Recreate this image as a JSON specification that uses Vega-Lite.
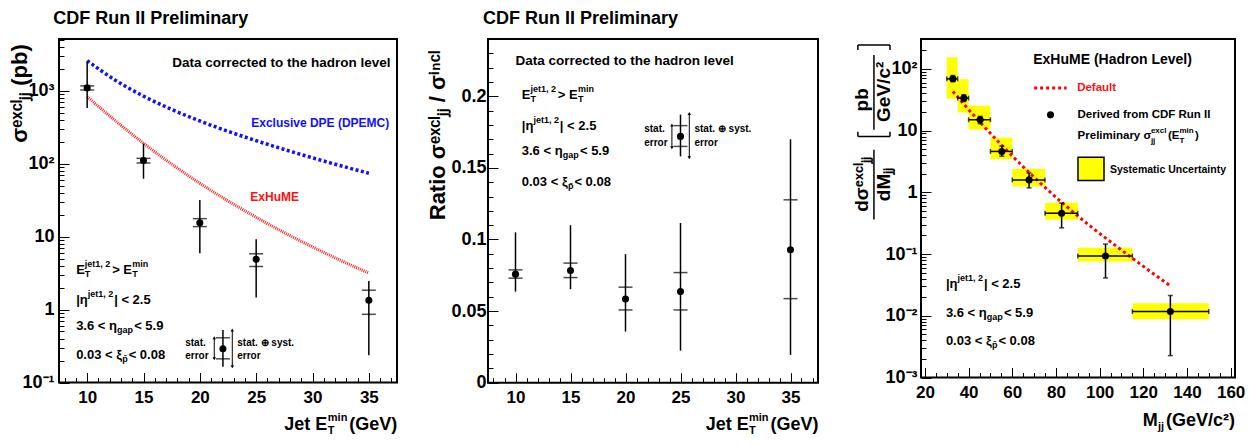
{
"$schema":"https://vega.github.io/schema/vega-lite/v6.json",
"width":1250,"height":445,"autosize":{"type":"none"},"padding":0,"background":"white",
"config":{"view":{"stroke":null},
 "text":{"font":"Liberation Sans, Arial, sans-serif","fontWeight":"bold","align":"left","baseline":"middle","color":"black"},
 "axis":{"grid":false,"domain":false,"labelFont":"Liberation Sans, Arial, sans-serif","labelFontWeight":"bold","labelColor":"black","tickColor":"black","tickWidth":1,"titleColor":"black","titleFont":"Liberation Sans, sans-serif","titleFontWeight":"bold","labelFlush":false,"labelOverlap":false}},
"datasets":{
 "p1":[{"x":10,"y":1090,"slo":1020,"shi":1160,"tlo":580,"thi":2500},{"x":15,"y":110,"slo":102,"shi":118,"tlo":62,"thi":188},{"x":20,"y":15.5,"slo":13.7,"shi":17.6,"tlo":5.9,"thi":31.8},{"x":25,"y":4.9,"slo":3.9,"shi":5.8,"tlo":1.46,"thi":9.2},{"x":35,"y":1.34,"slo":0.86,"shi":1.84,"tlo":0.237,"thi":2.46},{"x":22.05,"y":0.29,"slo":0.211,"shi":0.41,"tlo":0.164,"thi":0.526}],
 "p2":[{"x":10,"y":0.0758,"slo":0.073,"shi":0.0788,"tlo":0.0636,"thi":0.105},{"x":15,"y":0.0783,"slo":0.0734,"shi":0.0835,"tlo":0.0653,"thi":0.11},{"x":20,"y":0.0585,"slo":0.0508,"shi":0.0667,"tlo":0.0357,"thi":0.0898},{"x":25,"y":0.0636,"slo":0.0508,"shi":0.0769,"tlo":0.0224,"thi":0.1115},{"x":35,"y":0.0928,"slo":0.0587,"shi":0.1277,"tlo":0.0194,"thi":0.17},{"x":25,"y":0.172,"slo":0.165,"shi":0.1795,"tlo":0.158,"thi":0.1872}],
 "c1":[{"m":"DPEMC","x":10,"y":2576},{"m":"DPEMC","x":12.5,"y":1390},{"m":"DPEMC","x":15,"y":841},{"m":"DPEMC","x":17.5,"y":552},{"m":"DPEMC","x":20,"y":384},{"m":"DPEMC","x":22.5,"y":277},{"m":"DPEMC","x":25,"y":206},{"m":"DPEMC","x":27.5,"y":156},{"m":"DPEMC","x":30,"y":120},{"m":"DPEMC","x":32.5,"y":93.5},{"m":"DPEMC","x":35,"y":73.8},
  {"m":"ExHuME","x":10,"y":828},{"m":"ExHuME","x":12.5,"y":387},{"m":"ExHuME","x":15,"y":190},{"m":"ExHuME","x":17.5,"y":98.4},{"m":"ExHuME","x":20,"y":53.8},{"m":"ExHuME","x":22.5,"y":30.8},{"m":"ExHuME","x":25,"y":18.4},{"m":"ExHuME","x":27.5,"y":11.3},{"m":"ExHuME","x":30,"y":7.21},{"m":"ExHuME","x":32.5,"y":4.71},{"m":"ExHuME","x":35,"y":3.16}],
 "p3":[{"x":32.8,"lo":30,"hi":35,"y":69,"slo":32.8,"shi":154,"elo":62,"ehi":78},{"x":37.8,"lo":35,"hi":40,"y":33.6,"slo":19.7,"shi":68,"elo":29.6,"ehi":38},{"x":45.3,"lo":40,"hi":50,"y":15,"slo":10.4,"shi":25.3,"elo":13,"ehi":17},{"x":55.2,"lo":50,"hi":60,"y":4.6,"slo":3.44,"shi":7.7,"elo":3.85,"ehi":5.6},{"x":67.7,"lo":60,"hi":75,"y":1.59,"slo":1.24,"shi":2.42,"elo":1.18,"ehi":2.06},{"x":82.6,"lo":75,"hi":90,"y":0.458,"slo":0.36,"shi":0.68,"elo":0.266,"ehi":0.67},{"x":102.7,"lo":90,"hi":115,"y":0.093,"slo":0.076,"shi":0.126,"elo":0.041,"ehi":0.145},{"x":132.4,"lo":115,"hi":150,"y":0.0117,"slo":0.0088,"shi":0.016,"elo":0.00226,"ehi":0.0213}],
 "c3":[{"x":32.8,"y":43},{"x":37.8,"y":26.9},{"x":45.3,"y":13.6},{"x":55.2,"y":5.79},{"x":67.7,"y":2.1},{"x":82.6,"y":0.69},{"x":95,"y":0.297},{"x":106.5,"y":0.144},{"x":115,"y":0.0855},{"x":123,"y":0.053},{"x":132.3,"y":0.0307}],
 "arrows":[{"p":1,"x":21.28,"lo":0.211,"hi":0.41},{"p":1,"x":22.88,"lo":0.164,"hi":0.526},{"p":2,"x":24.22,"lo":0.164,"hi":0.18},{"p":2,"x":25.8,"lo":0.157,"hi":0.188}],
 "frames":[{"p":1,"x1":7.5,"x2":37.5,"y1":0.1,"y2":5100},{"p":2,"x1":7.5,"x2":37.5,"y1":0,"y2":0.24},{"p":3,"x1":18.2,"x2":162,"y1":0.001,"y2":305}],
 "p3lines":[{"x":-3.35,"x2":-3.35,"y":0.364,"y2":4.9},{"x":-3.35,"x2":-3.35,"y":10.3,"y2":168},{"x":-10.7,"x2":4,"y":8,"y2":8},{"x":-10.7,"x2":4,"y":244,"y2":244},{"x":-10.7,"x2":-10.7,"y":8,"y2":9.6},{"x":4,"x2":4,"y":8,"y2":9.6},{"x":-10.7,"x2":-10.7,"y":203,"y2":244},{"x":4,"x2":4,"y":203,"y2":244}],
 "txt":[
  {"p":1,"r":"title","x":6.98,"y":9600,"t":"CDF Run II Preliminary"},
  {"p":1,"r":"note","x":17.55,"y":2390,"t":"Data corrected to the hadron level"},
  {"p":1,"r":"blue","x":24.56,"y":361,"t":"Exclusive DPE (DPEMC)"},
  {"p":1,"r":"red","x":24.48,"y":35,"t":"ExHuME"},
  {"p":1,"r":"cut","x":9.02,"y":3.5,"t":"E"},
  {"p":1,"r":"cut","x":12.217,"y":3.5,"t":"> E"},
  {"p":1,"r":"cut","x":9.02,"y":1.36,"t":"|η"},
  {"p":1,"r":"cut","x":12.395,"y":1.36,"t":"| < 2.5"},
  {"p":1,"r":"cut","x":9.02,"y":0.598,"t":"3.6 < η"},
  {"p":1,"r":"cut","x":14.171,"y":0.598,"t":"< 5.9"},
  {"p":1,"r":"cut","x":9.02,"y":0.24,"t":"0.03 < ξ"},
  {"p":1,"r":"cut","x":13.682,"y":0.24,"t":"< 0.08"},
  {"p":1,"r":"sub","x":9.793,"y":3.5,"t":"T"},
  {"p":1,"r":"sub","x":13.993,"y":3.5,"t":"T"},
  {"p":1,"r":"sub","x":12.643,"y":0.598,"t":"gap"},
  {"p":1,"r":"sub","x":13.105,"y":0.24,"t":"p̄"},
  {"p":1,"r":"sup","x":9.793,"y":3.5,"t":"jet1, 2"},
  {"p":1,"r":"sup","x":13.993,"y":3.5,"t":"min"},
  {"p":1,"r":"sup","x":10.05,"y":1.36,"t":"jet1, 2"},
  {"p":1,"r":"small","x":18.7,"y":0.35,"t":"stat."},
  {"p":1,"r":"small","x":18.7,"y":0.232,"t":"error"},
  {"p":1,"r":"small","x":23.32,"y":0.35,"t":"stat. ⊕ syst."},
  {"p":1,"r":"small","x":23.32,"y":0.232,"t":"error"},
  {"p":1,"r":"axt","x":27.5,"y":0.0263,"t":"Jet E"},
  {"p":1,"r":"axt","x":33.27,"y":0.0263,"t":"(GeV)"},
  {"p":1,"r":"axsub","x":31.36,"y":0.0263,"t":"T"},
  {"p":1,"r":"axsup","x":31.36,"y":0.0263,"t":"min"},
  {"p":2,"r":"title","x":7.05,"y":0.2543,"t":"CDF Run II Preliminary"},
  {"p":2,"r":"note","x":10.0,"y":0.2245,"t":"Data corrected to the hadron level"},
  {"p":2,"r":"cut","x":10.57,"y":0.2012,"t":"E"},
  {"p":2,"r":"cut","x":13.852,"y":0.2012,"t":"> E"},
  {"p":2,"r":"cut","x":10.57,"y":0.179,"t":"|η"},
  {"p":2,"r":"cut","x":14.034,"y":0.179,"t":"| < 2.5"},
  {"p":2,"r":"cut","x":10.57,"y":0.1615,"t":"3.6 < η"},
  {"p":2,"r":"cut","x":15.857,"y":0.1615,"t":"< 5.9"},
  {"p":2,"r":"cut","x":10.57,"y":0.1399,"t":"0.03 < ξ"},
  {"p":2,"r":"cut","x":15.356,"y":0.1399,"t":"< 0.08"},
  {"p":2,"r":"sub","x":11.363,"y":0.2012,"t":"T"},
  {"p":2,"r":"sub","x":15.675,"y":0.2012,"t":"T"},
  {"p":2,"r":"sub","x":14.289,"y":0.1615,"t":"gap"},
  {"p":2,"r":"sub","x":14.763,"y":0.1399,"t":"p̄"},
  {"p":2,"r":"sup","x":11.363,"y":0.2012,"t":"jet1, 2"},
  {"p":2,"r":"sup","x":15.675,"y":0.2012,"t":"min"},
  {"p":2,"r":"sup","x":11.627,"y":0.179,"t":"jet1, 2"},
  {"p":2,"r":"small","x":21.7,"y":0.1772,"t":"stat."},
  {"p":2,"r":"small","x":21.7,"y":0.1674,"t":"error"},
  {"p":2,"r":"small","x":26.27,"y":0.1772,"t":"stat. ⊕ syst."},
  {"p":2,"r":"small","x":26.27,"y":0.1674,"t":"error"},
  {"p":2,"r":"axt","x":27.3,"y":-0.0296,"t":"Jet E"},
  {"p":2,"r":"axt","x":33.18,"y":-0.0296,"t":"(GeV)"},
  {"p":2,"r":"axsub","x":31.22,"y":-0.0296,"t":"T"},
  {"p":2,"r":"axsup","x":31.22,"y":-0.0296,"t":"min"},
  {"p":3,"r":"cut","x":29.6,"y":0.0322,"t":"|η"},
  {"p":3,"r":"cut","x":47.0,"y":0.0322,"t":"| < 2.5"},
  {"p":3,"r":"cut","x":29.6,"y":0.0112,"t":"3.6 < η"},
  {"p":3,"r":"cut","x":56.16,"y":0.0112,"t":"< 5.9"},
  {"p":3,"r":"cut","x":29.6,"y":0.00395,"t":"0.03 < ξ"},
  {"p":3,"r":"cut","x":53.64,"y":0.00395,"t":"< 0.08"},
  {"p":3,"r":"sub","x":48.28,"y":0.0112,"t":"gap"},
  {"p":3,"r":"sub","x":50.66,"y":0.00395,"t":"p̄"},
  {"p":3,"r":"sup","x":34.91,"y":0.0322,"t":"jet1, 2"},
  {"p":3,"r":"axt","x":119.8,"y":0.0002,"t":"M"},
  {"p":3,"r":"axt","x":130.35,"y":0.0002,"t":"(GeV/c²)"},
  {"p":3,"r":"axsub","x":126.7,"y":0.0002,"t":"jj"},
  {"p":3,"r":"legt","x":69.6,"y":139.7,"t":"ExHuME (Hadron Level)"},
  {"p":3,"r":"legred","x":89.7,"y":48.8,"t":"Default"},
  {"p":3,"r":"leg","x":89.9,"y":18,"t":"Derived from CDF Run II"},
  {"p":3,"r":"leg","x":89.92,"y":8.27,"t":"Preliminary σ"},
  {"p":3,"r":"leg","x":131.26,"y":8.27,"t":"(E"},
  {"p":3,"r":"leg","x":143.63,"y":8.27,"t":")"},
  {"p":3,"r":"legsup","x":123.48,"y":8.27,"t":"excl"},
  {"p":3,"r":"legsup","x":136.53,"y":8.27,"t":"min"},
  {"p":3,"r":"legsub","x":123.48,"y":8.27,"t":"jj"},
  {"p":3,"r":"legsub","x":136.53,"y":8.27,"t":"T"},
  {"p":3,"r":"legsys","x":104.7,"y":2.34,"t":"Systematic Uncertainty"},
  {"p":3,"r":"rot","x":-8.85,"y":1.34,"t":"dσᵉˣᶜˡⱼⱼ"},
  {"p":3,"r":"rot","x":1.23,"y":1.34,"t":"dMⱼⱼ"},
  {"p":3,"r":"rot","x":-8.85,"y":31.6,"t":"pb"},
  {"p":3,"r":"rot","x":1.23,"y":42.5,"t":"GeV/c²"}
 ]
},
"resolve":{"scale":{"x":"independent","y":"independent"},"axis":{"x":"independent","y":"independent"}},
"layer":[
 {"layer":[
  {"data":{"name":"c1"},"transform":[{"filter":"datum.m=='DPEMC'"}],"mark":{"type":"line","color":"#1010ff","strokeWidth":3.5,"strokeDash":[3,2.5],"interpolate":"monotone"},"encoding":{"x":{"field":"x","type":"quantitative"},"y":{"field":"y","type":"quantitative"}}},
  {"data":{"name":"c1"},"transform":[{"filter":"datum.m=='ExHuME'"}],"mark":{"type":"line","color":"#ff2020","strokeWidth":3,"strokeDash":[1,1],"interpolate":"monotone"},"encoding":{"x":{"field":"x","type":"quantitative"},"y":{"field":"y","type":"quantitative"}}},
  {"data":{"name":"p1"},"mark":{"type":"rule","color":"black","strokeWidth":1.5},"encoding":{"x":{"field":"x","type":"quantitative"},"y":{"field":"tlo","type":"quantitative"},"y2":{"field":"thi"}}},
  {"data":{"name":"p1"},"mark":{"type":"tick","color":"black","orient":"horizontal","size":14,"thickness":1.5},"encoding":{"x":{"field":"x","type":"quantitative"},"y":{"field":"slo","type":"quantitative"}}},
  {"data":{"name":"p1"},"mark":{"type":"tick","color":"black","orient":"horizontal","size":14,"thickness":1.5},"encoding":{"x":{"field":"x","type":"quantitative"},"y":{"field":"shi","type":"quantitative"}}},
  {"data":{"name":"p1"},"mark":{"type":"circle","color":"black","size":50,"opacity":1},"encoding":{"x":{"field":"x","type":"quantitative"},"y":{"field":"y","type":"quantitative"}}},
  {"data":{"name":"arrows"},"transform":[{"filter":"datum.p==1"}],"mark":{"type":"rule","color":"black","strokeWidth":1},"encoding":{"x":{"field":"x","type":"quantitative"},"y":{"field":"lo","type":"quantitative"},"y2":{"field":"hi"}}},
  {"data":{"name":"arrows"},"transform":[{"filter":"datum.p==1"}],"mark":{"type":"point","shape":"triangle-up","filled":true,"color":"black","size":12,"opacity":1},"encoding":{"x":{"field":"x","type":"quantitative"},"y":{"field":"hi","type":"quantitative"}}},
  {"data":{"name":"arrows"},"transform":[{"filter":"datum.p==1"}],"mark":{"type":"point","shape":"triangle-down","filled":true,"color":"black","size":12,"opacity":1},"encoding":{"x":{"field":"x","type":"quantitative"},"y":{"field":"lo","type":"quantitative"}}},
  {"data":{"name":"txt"},"transform":[{"filter":"datum.p==1 && datum.r=='title'"}],"mark":{"type":"text","fontSize":18},"encoding":{"x":{"field":"x","type":"quantitative"},"y":{"field":"y","type":"quantitative"},"text":{"field":"t","type":"nominal"}}},
  {"data":{"name":"txt"},"transform":[{"filter":"datum.p==1 && datum.r=='note'"}],"mark":{"type":"text","fontSize":13.5},"encoding":{"x":{"field":"x","type":"quantitative"},"y":{"field":"y","type":"quantitative"},"text":{"field":"t","type":"nominal"}}},
  {"data":{"name":"txt"},"transform":[{"filter":"datum.p==1 && datum.r=='blue'"}],"mark":{"type":"text","fontSize":12,"color":"#1010ff"},"encoding":{"x":{"field":"x","type":"quantitative"},"y":{"field":"y","type":"quantitative"},"text":{"field":"t","type":"nominal"}}},
  {"data":{"name":"txt"},"transform":[{"filter":"datum.p==1 && datum.r=='red'"}],"mark":{"type":"text","fontSize":12,"color":"#ff1010"},"encoding":{"x":{"field":"x","type":"quantitative"},"y":{"field":"y","type":"quantitative"},"text":{"field":"t","type":"nominal"}}},
  {"data":{"name":"txt"},"transform":[{"filter":"datum.p==1 && datum.r=='cut'"}],"mark":{"type":"text","fontSize":13},"encoding":{"x":{"field":"x","type":"quantitative"},"y":{"field":"y","type":"quantitative"},"text":{"field":"t","type":"nominal"}}},
  {"data":{"name":"txt"},"transform":[{"filter":"datum.p==1 && datum.r=='sub'"}],"mark":{"type":"text","fontSize":9,"dy":4},"encoding":{"x":{"field":"x","type":"quantitative"},"y":{"field":"y","type":"quantitative"},"text":{"field":"t","type":"nominal"}}},
  {"data":{"name":"txt"},"transform":[{"filter":"datum.p==1 && datum.r=='sup'"}],"mark":{"type":"text","fontSize":9,"dy":-6},"encoding":{"x":{"field":"x","type":"quantitative"},"y":{"field":"y","type":"quantitative"},"text":{"field":"t","type":"nominal"}}},
  {"data":{"name":"txt"},"transform":[{"filter":"datum.p==1 && datum.r=='small'"}],"mark":{"type":"text","fontSize":10},"encoding":{"x":{"field":"x","type":"quantitative"},"y":{"field":"y","type":"quantitative"},"text":{"field":"t","type":"nominal"}}},
  {"data":{"name":"txt"},"transform":[{"filter":"datum.p==1 && datum.r=='axt'"}],"mark":{"type":"text","fontSize":18},"encoding":{"x":{"field":"x","type":"quantitative"},"y":{"field":"y","type":"quantitative"},"text":{"field":"t","type":"nominal"}}},
  {"data":{"name":"txt"},"transform":[{"filter":"datum.p==1 && datum.r=='axsub'"}],"mark":{"type":"text","fontSize":11,"dy":6},"encoding":{"x":{"field":"x","type":"quantitative"},"y":{"field":"y","type":"quantitative"},"text":{"field":"t","type":"nominal"}}},
  {"data":{"name":"txt"},"transform":[{"filter":"datum.p==1 && datum.r=='axsup'"}],"mark":{"type":"text","fontSize":11,"dy":-7},"encoding":{"x":{"field":"x","type":"quantitative"},"y":{"field":"y","type":"quantitative"},"text":{"field":"t","type":"nominal"}}},
  {"data":{"name":"frames"},"transform":[{"filter":"datum.p==1"}],"mark":{"type":"rect","filled":false,"color":"black","strokeWidth":2},"encoding":{
    "x":{"field":"x1","type":"quantitative","scale":{"domain":[7.5,37.5],"range":[59,397],"nice":false,"zero":false},"axis":{"orient":"bottom","offset":-62.5,"values":[10,15,20,25,30,35],"tickSize":-10,"labelPadding":17,"labelFontSize":17,"title":null}},
    "x2":{"field":"x2"},
    "y":{"field":"y1","type":"quantitative","scale":{"type":"log","domain":[0.1,5100],"range":[382.5,39],"nice":false},"axis":{"orient":"left","offset":-59,"values":[0.1,1,10,100,1000],"tickSize":-10,"labelPadding":15,"labelFontSize":18,"labelExpr":"datum.value >= 999 ? '10³' : datum.value >= 99 ? '10²' : datum.value >= 9 ? '10' : datum.value >= 0.9 ? '1' : '10⁻¹'","title":"σᵉˣᶜˡⱼⱼ (pb)","titleX":-40,"titleY":93,"titleAngle":270,"titleAlign":"center","titleBaseline":"middle","titleFontSize":22}},
    "y2":{"field":"y2"}}}
 ]},
 {"data":{"values":[{}]},"mark":{"type":"point","opacity":0},"encoding":{
   "x":{"datum":10,"type":"quantitative","scale":{"domain":[7.5,37.5],"range":[59,397],"nice":false,"zero":false},"axis":{"orient":"bottom","offset":-62.5,"values":[8,9,11,12,13,14,16,17,18,19,21,22,23,24,26,27,28,29,31,32,33,34,36,37],"tickSize":-5,"labels":false,"title":null}},
   "y":{"datum":1,"type":"quantitative","scale":{"type":"log","domain":[0.1,5100],"range":[382.5,39],"nice":false},"axis":{"orient":"left","offset":-59,"values":[0.2,0.3,0.4,0.5,0.6,0.7,0.8,0.9,2,3,4,5,6,7,8,9,20,30,40,50,60,70,80,90,200,300,400,500,600,700,800,900,2000,3000,4000,5000],"tickSize":-5,"labels":false,"title":null}}}},
 {"layer":[
  {"data":{"name":"p2"},"mark":{"type":"rule","color":"black","strokeWidth":1.5},"encoding":{"x":{"field":"x","type":"quantitative"},"y":{"field":"tlo","type":"quantitative"},"y2":{"field":"thi"}}},
  {"data":{"name":"p2"},"mark":{"type":"tick","color":"black","orient":"horizontal","size":14,"thickness":1.5},"encoding":{"x":{"field":"x","type":"quantitative"},"y":{"field":"slo","type":"quantitative"}}},
  {"data":{"name":"p2"},"mark":{"type":"tick","color":"black","orient":"horizontal","size":14,"thickness":1.5},"encoding":{"x":{"field":"x","type":"quantitative"},"y":{"field":"shi","type":"quantitative"}}},
  {"data":{"name":"p2"},"mark":{"type":"circle","color":"black","size":50,"opacity":1},"encoding":{"x":{"field":"x","type":"quantitative"},"y":{"field":"y","type":"quantitative"}}},
  {"data":{"name":"arrows"},"transform":[{"filter":"datum.p==2"}],"mark":{"type":"rule","color":"black","strokeWidth":1},"encoding":{"x":{"field":"x","type":"quantitative"},"y":{"field":"lo","type":"quantitative"},"y2":{"field":"hi"}}},
  {"data":{"name":"arrows"},"transform":[{"filter":"datum.p==2"}],"mark":{"type":"point","shape":"triangle-up","filled":true,"color":"black","size":12,"opacity":1},"encoding":{"x":{"field":"x","type":"quantitative"},"y":{"field":"hi","type":"quantitative"}}},
  {"data":{"name":"arrows"},"transform":[{"filter":"datum.p==2"}],"mark":{"type":"point","shape":"triangle-down","filled":true,"color":"black","size":12,"opacity":1},"encoding":{"x":{"field":"x","type":"quantitative"},"y":{"field":"lo","type":"quantitative"}}},
  {"data":{"name":"txt"},"transform":[{"filter":"datum.p==2 && datum.r=='title'"}],"mark":{"type":"text","fontSize":18},"encoding":{"x":{"field":"x","type":"quantitative"},"y":{"field":"y","type":"quantitative"},"text":{"field":"t","type":"nominal"}}},
  {"data":{"name":"txt"},"transform":[{"filter":"datum.p==2 && datum.r=='note'"}],"mark":{"type":"text","fontSize":13.5},"encoding":{"x":{"field":"x","type":"quantitative"},"y":{"field":"y","type":"quantitative"},"text":{"field":"t","type":"nominal"}}},
  {"data":{"name":"txt"},"transform":[{"filter":"datum.p==2 && datum.r=='cut'"}],"mark":{"type":"text","fontSize":13},"encoding":{"x":{"field":"x","type":"quantitative"},"y":{"field":"y","type":"quantitative"},"text":{"field":"t","type":"nominal"}}},
  {"data":{"name":"txt"},"transform":[{"filter":"datum.p==2 && datum.r=='sub'"}],"mark":{"type":"text","fontSize":9,"dy":4},"encoding":{"x":{"field":"x","type":"quantitative"},"y":{"field":"y","type":"quantitative"},"text":{"field":"t","type":"nominal"}}},
  {"data":{"name":"txt"},"transform":[{"filter":"datum.p==2 && datum.r=='sup'"}],"mark":{"type":"text","fontSize":9,"dy":-6},"encoding":{"x":{"field":"x","type":"quantitative"},"y":{"field":"y","type":"quantitative"},"text":{"field":"t","type":"nominal"}}},
  {"data":{"name":"txt"},"transform":[{"filter":"datum.p==2 && datum.r=='small'"}],"mark":{"type":"text","fontSize":10},"encoding":{"x":{"field":"x","type":"quantitative"},"y":{"field":"y","type":"quantitative"},"text":{"field":"t","type":"nominal"}}},
  {"data":{"name":"txt"},"transform":[{"filter":"datum.p==2 && datum.r=='axt'"}],"mark":{"type":"text","fontSize":18},"encoding":{"x":{"field":"x","type":"quantitative"},"y":{"field":"y","type":"quantitative"},"text":{"field":"t","type":"nominal"}}},
  {"data":{"name":"txt"},"transform":[{"filter":"datum.p==2 && datum.r=='axsub'"}],"mark":{"type":"text","fontSize":11,"dy":6},"encoding":{"x":{"field":"x","type":"quantitative"},"y":{"field":"y","type":"quantitative"},"text":{"field":"t","type":"nominal"}}},
  {"data":{"name":"txt"},"transform":[{"filter":"datum.p==2 && datum.r=='axsup'"}],"mark":{"type":"text","fontSize":11,"dy":-7},"encoding":{"x":{"field":"x","type":"quantitative"},"y":{"field":"y","type":"quantitative"},"text":{"field":"t","type":"nominal"}}},
  {"data":{"name":"frames"},"transform":[{"filter":"datum.p==2"}],"mark":{"type":"rect","filled":false,"color":"black","strokeWidth":2},"encoding":{
    "x":{"field":"x1","type":"quantitative","scale":{"domain":[7.5,37.5],"range":[488,818],"nice":false,"zero":false},"axis":{"orient":"bottom","offset":-62.3,"values":[10,15,20,25,30,35],"tickSize":-10,"labelPadding":17,"labelFontSize":17,"title":null}},
    "x2":{"field":"x2"},
    "y":{"field":"y1","type":"quantitative","scale":{"domain":[0,0.24],"range":[382.7,39],"nice":false,"zero":false},"axis":{"orient":"left","offset":-488,"values":[0,0.05,0.1,0.15,0.2],"format":"~g","tickSize":-10,"labelPadding":12,"labelFontSize":18,"title":"Ratio σᵉˣᶜˡⱼⱼ / σⁱⁿᶜˡ","titleX":-51,"titleY":135,"titleAngle":270,"titleAlign":"center","titleBaseline":"middle","titleFontSize":22}},
    "y2":{"field":"y2"}}}
 ]},
 {"data":{"values":[{}]},"mark":{"type":"point","opacity":0},"encoding":{
   "x":{"datum":10,"type":"quantitative","scale":{"domain":[7.5,37.5],"range":[488,818],"nice":false,"zero":false},"axis":{"orient":"bottom","offset":-62.3,"values":[8,9,11,12,13,14,16,17,18,19,21,22,23,24,26,27,28,29,31,32,33,34,36,37],"tickSize":-5,"labels":false,"title":null}},
   "y":{"datum":0.1,"type":"quantitative","scale":{"domain":[0,0.24],"range":[382.7,39],"nice":false,"zero":false},"axis":{"orient":"left","offset":-488,"values":[0.01,0.02,0.03,0.04,0.06,0.07,0.08,0.09,0.11,0.12,0.13,0.14,0.16,0.17,0.18,0.19,0.21,0.22,0.23],"tickSize":-5,"labels":false,"title":null}}}},
 {"layer":[
  {"data":{"name":"p3"},"mark":{"type":"rect","color":"#ffff00","opacity":1},"encoding":{"x":{"field":"lo","type":"quantitative"},"x2":{"field":"hi"},"y":{"field":"slo","type":"quantitative"},"y2":{"field":"shi"}}},
  {"data":{"name":"c3"},"mark":{"type":"line","color":"#ff0000","strokeWidth":3,"strokeDash":[3,3],"interpolate":"monotone"},"encoding":{"x":{"field":"x","type":"quantitative"},"y":{"field":"y","type":"quantitative"}}},
  {"data":{"name":"p3"},"mark":{"type":"rule","color":"black","strokeWidth":1.5},"encoding":{"x":{"field":"lo","type":"quantitative"},"x2":{"field":"hi"},"y":{"field":"y","type":"quantitative"}}},
  {"data":{"name":"p3"},"mark":{"type":"rule","color":"black","strokeWidth":1.5},"encoding":{"x":{"field":"x","type":"quantitative"},"y":{"field":"elo","type":"quantitative"},"y2":{"field":"ehi"}}},
  {"data":{"name":"p3"},"mark":{"type":"tick","color":"black","orient":"vertical","size":5,"thickness":1.5},"encoding":{"x":{"field":"lo","type":"quantitative"},"y":{"field":"y","type":"quantitative"}}},
  {"data":{"name":"p3"},"mark":{"type":"tick","color":"black","orient":"vertical","size":5,"thickness":1.5},"encoding":{"x":{"field":"hi","type":"quantitative"},"y":{"field":"y","type":"quantitative"}}},
  {"data":{"name":"p3"},"mark":{"type":"tick","color":"black","orient":"horizontal","size":5,"thickness":1.5},"encoding":{"x":{"field":"x","type":"quantitative"},"y":{"field":"elo","type":"quantitative"}}},
  {"data":{"name":"p3"},"mark":{"type":"tick","color":"black","orient":"horizontal","size":5,"thickness":1.5},"encoding":{"x":{"field":"x","type":"quantitative"},"y":{"field":"ehi","type":"quantitative"}}},
  {"data":{"name":"p3"},"mark":{"type":"circle","color":"black","size":50,"opacity":1},"encoding":{"x":{"field":"x","type":"quantitative"},"y":{"field":"y","type":"quantitative"}}},
  {"data":{"values":[{"x":70.0,"x2":84.9,"y":48.8}]},"mark":{"type":"rule","color":"#ff0000","strokeWidth":3,"strokeDash":[3,3]},"encoding":{"x":{"field":"x","type":"quantitative"},"x2":{"field":"x2"},"y":{"field":"y","type":"quantitative"}}},
  {"data":{"values":[{"x":77.5,"y":18}]},"mark":{"type":"circle","color":"black","size":50,"opacity":1},"encoding":{"x":{"field":"x","type":"quantitative"},"y":{"field":"y","type":"quantitative"}}},
  {"data":{"values":[{"x":90.1,"x2":102.0,"y":1.55,"y2":3.71}]},"mark":{"type":"rect","fill":"#ffff00","stroke":"black","strokeWidth":1.5},"encoding":{"x":{"field":"x","type":"quantitative"},"x2":{"field":"x2"},"y":{"field":"y","type":"quantitative"},"y2":{"field":"y2"}}},
  {"data":{"name":"p3lines"},"mark":{"type":"rule","color":"black","strokeWidth":1.5},"encoding":{"x":{"field":"x","type":"quantitative"},"x2":{"field":"x2"},"y":{"field":"y","type":"quantitative"},"y2":{"field":"y2"}}},
  {"data":{"name":"txt"},"transform":[{"filter":"datum.p==3 && datum.r=='cut'"}],"mark":{"type":"text","fontSize":13},"encoding":{"x":{"field":"x","type":"quantitative"},"y":{"field":"y","type":"quantitative"},"text":{"field":"t","type":"nominal"}}},
  {"data":{"name":"txt"},"transform":[{"filter":"datum.p==3 && datum.r=='sub'"}],"mark":{"type":"text","fontSize":9,"dy":4},"encoding":{"x":{"field":"x","type":"quantitative"},"y":{"field":"y","type":"quantitative"},"text":{"field":"t","type":"nominal"}}},
  {"data":{"name":"txt"},"transform":[{"filter":"datum.p==3 && datum.r=='sup'"}],"mark":{"type":"text","fontSize":9,"dy":-6},"encoding":{"x":{"field":"x","type":"quantitative"},"y":{"field":"y","type":"quantitative"},"text":{"field":"t","type":"nominal"}}},
  {"data":{"name":"txt"},"transform":[{"filter":"datum.p==3 && datum.r=='axt'"}],"mark":{"type":"text","fontSize":18},"encoding":{"x":{"field":"x","type":"quantitative"},"y":{"field":"y","type":"quantitative"},"text":{"field":"t","type":"nominal"}}},
  {"data":{"name":"txt"},"transform":[{"filter":"datum.p==3 && datum.r=='axsub'"}],"mark":{"type":"text","fontSize":11,"dy":6},"encoding":{"x":{"field":"x","type":"quantitative"},"y":{"field":"y","type":"quantitative"},"text":{"field":"t","type":"nominal"}}},
  {"data":{"name":"txt"},"transform":[{"filter":"datum.p==3 && datum.r=='legt'"}],"mark":{"type":"text","fontSize":14},"encoding":{"x":{"field":"x","type":"quantitative"},"y":{"field":"y","type":"quantitative"},"text":{"field":"t","type":"nominal"}}},
  {"data":{"name":"txt"},"transform":[{"filter":"datum.p==3 && datum.r=='legred'"}],"mark":{"type":"text","fontSize":11.5,"color":"#ff1010"},"encoding":{"x":{"field":"x","type":"quantitative"},"y":{"field":"y","type":"quantitative"},"text":{"field":"t","type":"nominal"}}},
  {"data":{"name":"txt"},"transform":[{"filter":"datum.p==3 && datum.r=='leg'"}],"mark":{"type":"text","fontSize":11.5},"encoding":{"x":{"field":"x","type":"quantitative"},"y":{"field":"y","type":"quantitative"},"text":{"field":"t","type":"nominal"}}},
  {"data":{"name":"txt"},"transform":[{"filter":"datum.p==3 && datum.r=='legsup'"}],"mark":{"type":"text","fontSize":8,"dy":-5},"encoding":{"x":{"field":"x","type":"quantitative"},"y":{"field":"y","type":"quantitative"},"text":{"field":"t","type":"nominal"}}},
  {"data":{"name":"txt"},"transform":[{"filter":"datum.p==3 && datum.r=='legsub'"}],"mark":{"type":"text","fontSize":8,"dy":5},"encoding":{"x":{"field":"x","type":"quantitative"},"y":{"field":"y","type":"quantitative"},"text":{"field":"t","type":"nominal"}}},
  {"data":{"name":"txt"},"transform":[{"filter":"datum.p==3 && datum.r=='legsys'"}],"mark":{"type":"text","fontSize":10.5},"encoding":{"x":{"field":"x","type":"quantitative"},"y":{"field":"y","type":"quantitative"},"text":{"field":"t","type":"nominal"}}},
  {"data":{"name":"txt"},"transform":[{"filter":"datum.p==3 && datum.r=='rot'"}],"mark":{"type":"text","fontSize":19,"angle":270,"align":"center","font":"Liberation Sans, sans-serif"},"encoding":{"x":{"field":"x","type":"quantitative"},"y":{"field":"y","type":"quantitative"},"text":{"field":"t","type":"nominal"}}},
  {"data":{"name":"frames"},"transform":[{"filter":"datum.p==3"}],"mark":{"type":"rect","filled":false,"color":"black","strokeWidth":2},"encoding":{
    "x":{"field":"x1","type":"quantitative","scale":{"domain":[18.2,162],"range":[921,1235],"nice":false,"zero":false},"axis":{"orient":"bottom","offset":-67.5,"values":[20,40,60,80,100,120,140,160],"tickSize":-10,"labelPadding":17,"labelFontSize":17,"title":null}},
    "x2":{"field":"x2"},
    "y":{"field":"y1","type":"quantitative","scale":{"type":"log","domain":[0.001,305],"range":[377.5,39],"nice":false},"axis":{"orient":"left","offset":-921,"values":[0.001,0.01,0.1,1,10,100],"tickSize":-10,"labelPadding":14,"labelFontSize":18,"labelExpr":"datum.value >= 99 ? '10²' : datum.value >= 9 ? '10' : datum.value >= 0.9 ? '1' : datum.value >= 0.09 ? '10⁻¹' : datum.value >= 0.009 ? '10⁻²' : '10⁻³'","title":null}},
    "y2":{"field":"y2"}}}
 ]},
 {"data":{"values":[{}]},"mark":{"type":"point","opacity":0},"encoding":{
   "x":{"datum":50,"type":"quantitative","scale":{"domain":[18.2,162],"range":[921,1235],"nice":false,"zero":false},"axis":{"orient":"bottom","offset":-67.5,"values":[25,30,35,45,50,55,65,70,75,85,90,95,105,110,115,125,130,135,145,150,155],"tickSize":-5,"labels":false,"title":null}},
   "y":{"datum":1,"type":"quantitative","scale":{"type":"log","domain":[0.001,305],"range":[377.5,39],"nice":false},"axis":{"orient":"left","offset":-921,"values":[0.002,0.003,0.004,0.005,0.006,0.007,0.008,0.009,0.02,0.03,0.04,0.05,0.06,0.07,0.08,0.09,0.2,0.3,0.4,0.5,0.6,0.7,0.8,0.9,2,3,4,5,6,7,8,9,20,30,40,50,60,70,80,90,200,300],"tickSize":-5,"labels":false,"title":null}}}}
]
}
